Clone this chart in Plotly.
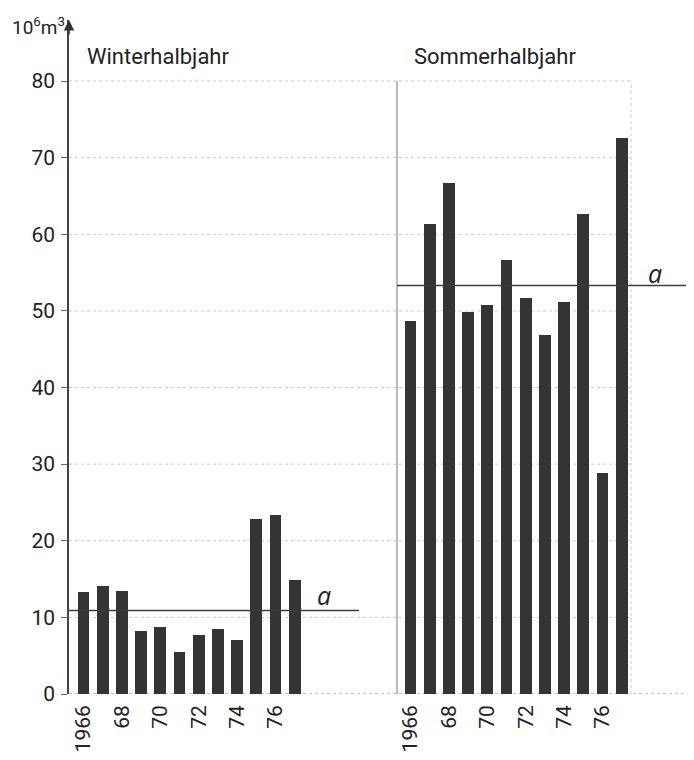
import plotly.graph_objects as go

years = [1966, 1967, 1968, 1969, 1970, 1971, 1972, 1973, 1974, 1975, 1976, 1977]
winter = [13.3, 14.1, 13.5, 8.2, 8.7, 5.5, 7.7, 8.5, 7.0, 22.8, 23.4, 14.9]
summer = [48.7, 61.3, 66.7, 49.8, 50.8, 56.7, 51.7, 46.8, 51.2, 62.7, 28.8, 72.6]
a_winter = 10.9
a_summer = 53.3
tick_years = [1966, 1968, 1970, 1972, 1974, 1976]
tick_text = ["1966", "68", "70", "72", "74", "76"]
y_ticks = [0, 10, 20, 30, 40, 50, 60, 70, 80]
titles = ["Winterhalbjahr", "Sommerhalbjahr"]
unit_label = "10<sup>6</sup>m<sup>3</sup>"

BAR = "#343434"
LINE = "#3c3c3c"
GRID = "#c8c8c8"
FONT = "Roboto"

OFF = 8  # page body margin
W, H = 694 - OFF, 760 - OFF
# target page pixel positions
AX_X, Y0, Y80, TOP = 69, 694, 81, 20
RIGHT = 690
ml = AX_X - OFF
mt = TOP - OFF
mb = H - (Y0 - OFF)
mr = W - (RIGHT - OFF)
pw = W - ml - mr
ph = H - mt - mb
ymax = ph / ((Y0 - Y80) / 80)


def px_x(p):
    return (p - AX_X) / pw


def px_y(p):
    return (Y0 - p) / ph


split = px_x(397)
px_per_unit = 19.2
left_start = years[0] - (83.5 - AX_X) / px_per_unit
left_end = left_start + (397 - AX_X) / px_per_unit
right_start = years[0] - (410.5 - 397) / px_per_unit
right_end = right_start + (RIGHT - 397) / px_per_unit

fig = go.Figure()
fig.add_trace(go.Bar(x=years, y=winter, marker=dict(color=BAR, line=dict(width=0)),
                     width=0.61, xaxis="x", yaxis="y", showlegend=False))
fig.add_trace(go.Bar(x=years, y=summer, marker=dict(color=BAR, line=dict(width=0)),
                     width=0.61, xaxis="x2", yaxis="y", showlegend=False))

# reference lines "a"
fig.add_trace(go.Scatter(x=[left_start, years[0] + (359 - 83.5) / px_per_unit],
                         y=[a_winter, a_winter], mode="lines",
                         line=dict(color=LINE, width=1.5), xaxis="x", yaxis="y",
                         showlegend=False, hoverinfo="skip"))
fig.add_trace(go.Scatter(x=[right_start, years[0] + (687 - 410.5) / px_per_unit],
                         y=[a_summer, a_summer], mode="lines",
                         line=dict(color=LINE, width=1.5), xaxis="x2", yaxis="y",
                         showlegend=False, hoverinfo="skip"))

shapes = []
grid_end = px_x(631)
for v in y_ticks[1:]:
    shapes.append(dict(type="line", xref="paper", yref="y", x0=0, x1=grid_end, y0=v, y1=v,
                       line=dict(color=GRID, width=1, dash="dot"), layer="below"))
shapes.append(dict(type="line", xref="paper", yref="y", x0=0, x1=px_x(687), y0=0, y1=0,
                   line=dict(color="#8a8a8a", width=1, dash="dot"), layer="below"))
shapes.append(dict(type="line", xref="paper", yref="y", x0=split, x1=split, y0=0, y1=80,
                   line=dict(color="#777", width=1), layer="below"))
shapes.append(dict(type="line", xref="paper", yref="y", x0=grid_end, x1=grid_end, y0=0, y1=80,
                   line=dict(color=GRID, width=1, dash="dot"), layer="below"))

annotations = [
    dict(text=titles[0], xref="paper", yref="paper", x=px_x(85), y=px_y(57),
         xanchor="left", yanchor="middle", showarrow=False,
         font=dict(family=FONT, size=22, color="#222")),
    dict(text=titles[1], xref="paper", yref="paper", x=px_x(412), y=px_y(57),
         xanchor="left", yanchor="middle", showarrow=False,
         font=dict(family=FONT, size=22, color="#222")),
    dict(text=unit_label, xref="paper", yref="paper", x=px_x(67), y=px_y(27),
         xanchor="right", yanchor="middle", showarrow=False,
         font=dict(family=FONT, size=19, color="#222")),
    dict(text="<i>a</i>", xref="x", yref="y", x=years[0] + (324 - 83.5) / px_per_unit,
         y=a_winter, yshift=15, xanchor="center", yanchor="middle", showarrow=False,
         font=dict(family="Open Sans", size=25, color="#222")),
    dict(text="<i>a</i>", xref="x2", yref="y", x=years[0] + (655 - 410.5) / px_per_unit,
         y=a_summer, yshift=13, xanchor="center", yanchor="middle", showarrow=False,
         font=dict(family="Open Sans", size=25, color="#222")),
    # axis arrow head
    dict(text="", xref="paper", yref="paper", x=0, y=1, ax=0, ay=16, showarrow=True,
         arrowhead=2, arrowsize=1.3, arrowwidth=1.6, arrowcolor="#333"),
]

xcommon = dict(tickmode="array", tickvals=tick_years, ticktext=tick_text, tickangle=-90,
               showline=False, showgrid=False, zeroline=False, ticks="",
               tickfont=dict(family=FONT, size=21, color="#222"), fixedrange=True,
               ticklabelstandoff=6)

fig.update_layout(
    width=W, height=H,
    margin=dict(l=ml, r=mr, t=mt, b=mb),
    paper_bgcolor="white", plot_bgcolor="white",
    bargap=0,
    xaxis=dict(domain=[0, split], range=[left_start, left_end], anchor="y", **xcommon),
    xaxis2=dict(domain=[split, 1], range=[right_start, right_end], anchor="y", **xcommon),
    yaxis=dict(range=[0, ymax], anchor="x", tickmode="array", tickvals=y_ticks,
               showgrid=False, zeroline=False, showline=True, linecolor="#444", linewidth=1.5,
               ticks="outside", ticklen=6, tickcolor="#666", tickwidth=1,
               tickfont=dict(family=FONT, size=21, color="#222"), ticklabelstandoff=2),
    shapes=shapes,
    annotations=annotations,
)

fig.write_html("out.html")
